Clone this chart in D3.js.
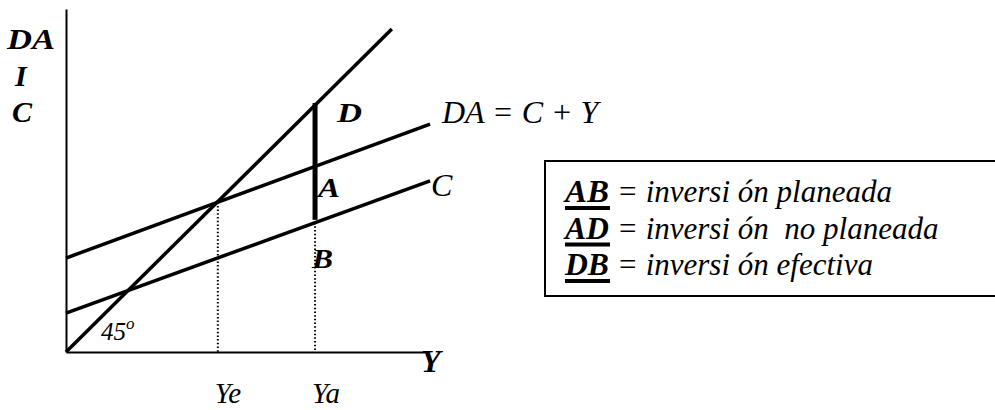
<!DOCTYPE html>
<html>
<head>
<meta charset="utf-8">
<script src="https://cdn.jsdelivr.net/npm/d3@7"></script>
</head>
<body style="margin:0">
<svg width="995" height="410"></svg>
<script>
// income points marked on the horizontal axis
const incomeLabels = ["Ye", "Ya"];
const incomeValues = [41.7, 68.4];

// lines, each as [Y, value] end points
const line45 = [[0, 0], [89.5, 88.7]];
const lineDA = [[0, 25.8], [100, 62.6]];
const lineC = [[0, 10.7], [100, 47.0]];
const segDB = [[68.4, 68.4], [68.4, 36.3]];

const axisLabelsY = ["DA", "I", "C"];
const legendKeys = ["AB", "AD", "DB"];
const legendTexts = ["inversi ón planeada", "inversi ón  no planeada", "inversi ón efectiva"];

const svg = d3.select("svg");

const x = d3.scaleLinear().domain([0, 98.6]).range([66, 425]);
const y = d3.scaleLinear().domain([0, 94.2]).range([352, 9]);

const at = (ln, v) => ln[0][1] + (ln[1][1] - ln[0][1]) * (v - ln[0][0]) / (ln[1][0] - ln[0][0]);

// serif text helper
const txt = (size, bold, italic) => {
  const t = svg.append("text")
    .style("font-family", '"Liberation Serif"')
    .style("font-size", size + "px")
    .style("font-style", italic ? "italic" : "normal");
  if (bold) t.style("font-weight", "bold");
  return t;
};

// axes, no ticks
svg.append("g")
  .attr("transform", `translate(0,${y(0)})`)
  .call(d3.axisBottom(x).tickValues([]).tickSizeOuter(0))
  .select(".domain").attr("stroke-width", 2);
svg.append("g")
  .attr("transform", `translate(${x(0)},0)`)
  .call(d3.axisLeft(y).tickValues([]).tickSizeOuter(0))
  .select(".domain").attr("stroke-width", 2);

const line = d3.line().x(d => x(d[0])).y(d => y(d[1]));

// dotted drop lines
const drops = [
  [[incomeValues[0], at(lineDA, incomeValues[0])], [incomeValues[0], 0]],
  [[incomeValues[1], at(lineC, incomeValues[1])], [incomeValues[1], 0]]
];
svg.selectAll(".drop")
  .data(drops)
  .enter().append("path")
  .attr("class", "drop")
  .attr("d", line)
  .attr("fill", "none")
  .attr("stroke", "#000")
  .attr("stroke-width", 2)
  .attr("stroke-dasharray", "1.5,2.2");

svg.selectAll(".ln")
  .data([line45, lineDA, lineC])
  .enter().append("path")
  .attr("class", "ln")
  .attr("d", line)
  .attr("fill", "none")
  .attr("stroke", "#000")
  .attr("stroke-width", 3.5);

svg.append("path")
  .attr("d", line(segDB))
  .attr("stroke", "#000")
  .attr("stroke-width", 5);

// vertical axis labels
axisLabelsY.forEach((d, i) => {
  const t = txt(30, true, true)
    .attr("x", [7, 15, 12][i])
    .attr("y", 49 + i * 36.5)
    .text(d);
  if (i === 0) t.attr("textLength", 48).attr("lengthAdjust", "spacingAndGlyphs");
});

txt(32, true, true).attr("x", 421).attr("y", 372).text("Y");

// income labels under axis
incomeLabels.forEach((d, i) => {
  txt(29, false, true)
    .attr("x", x(incomeValues[i]) - 3)
    .attr("y", 403)
    .text(d);
});

// point labels
const ya = incomeValues[1];
txt(28, true, true).attr("x", x(ya) + 22).attr("y", y(segDB[0][1]) + 19)
  .attr("textLength", 25).attr("lengthAdjust", "spacingAndGlyphs").text("D");
txt(28, true, true).attr("x", x(ya) + 3).attr("y", 197)
  .attr("textLength", 22).attr("lengthAdjust", "spacingAndGlyphs").text("A");
txt(28, true, true).attr("x", x(ya) - 3).attr("y", 268)
  .attr("textLength", 21).attr("lengthAdjust", "spacingAndGlyphs").text("B");

// curve labels
txt(32, false, true).attr("x", 442).attr("y", 123).text("DA = C + Y");
txt(32, false, true).attr("x", 431).attr("y", 196).text("C");

const deg = txt(25, false, true).attr("x", 101).attr("y", 340);
deg.append("tspan").text("45");
deg.append("tspan").attr("dy", -11).style("font-size", "17px").text("o");

// legend box
svg.append("rect")
  .attr("x", 545).attr("y", 161)
  .attr("width", 470).attr("height", 135)
  .attr("fill", "none")
  .attr("stroke", "#000")
  .attr("stroke-width", 2);

const keyW = 44;
legendKeys.forEach((k, i) => {
  const by = 202 + i * 36.5;
  txt(31, true, true).attr("x", 565).attr("y", by)
    .attr("textLength", keyW).attr("lengthAdjust", "spacingAndGlyphs").text(k);
  svg.append("rect")
    .attr("x", 565).attr("y", by + 4)
    .attr("width", keyW + 1).attr("height", 4)
    .attr("fill", "#000");
  txt(31, false, true)
    .attr("x", 617).attr("y", by)
    .text("= " + legendTexts[i].replace("  ", "\u00a0 "));
});
</script>
</body>
</html>
